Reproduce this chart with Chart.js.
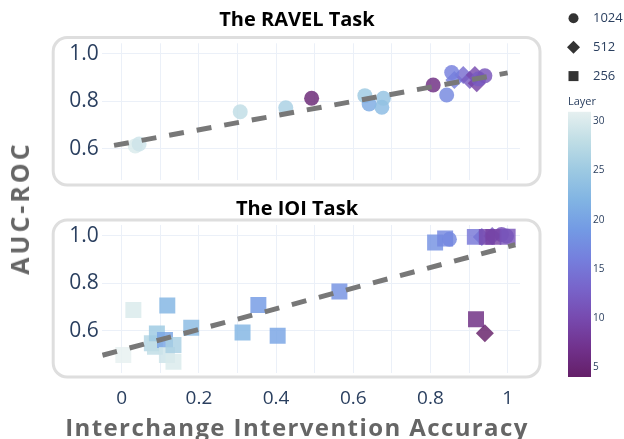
<!DOCTYPE html>
<html>
<head>
<meta charset="utf-8">
<script src="https://cdn.jsdelivr.net/npm/chart.js@4.4.1/dist/chart.umd.min.js"></script>
<style>
  html, body { margin:0; padding:0; background:#fff; }
  body { width:624px; height:439px; position:relative; overflow:hidden; font-family:"Open Sans", sans-serif; }
  canvas { position:absolute; }
  .ptitle { position:absolute; font-weight:700; font-size:20px; color:#000; white-space:nowrap; transform:translate(-50%,-50%); }
  #ylab { position:absolute; left:18.5px; top:208px; font-weight:700; font-size:25px; letter-spacing:3px; color:#666; white-space:nowrap; transform:translate(-50%,-50%) rotate(-90deg); }
  #xlab { position:absolute; left:297px; top:426px; font-weight:700; font-size:24px; letter-spacing:1.4px; color:#666; white-space:nowrap; transform:translate(-50%,-50%); }
</style>
</head>
<body>
<canvas id="c1" width="624" height="200" style="left:0;top:0;width:624px;height:200px"></canvas>
<canvas id="c2" width="624" height="239" style="left:0;top:200px;width:624px;height:239px"></canvas>
<canvas id="c3" width="64" height="290" style="left:560px;top:95px;width:64px;height:290px"></canvas>
<div class="ptitle" style="left:297px;top:18px">The RAVEL Task</div>
<div class="ptitle" style="left:297px;top:207px">The IOI Task</div>
<div id="ylab">AUC-ROC</div>
<div id="xlab">Interchange Intervention Accuracy</div>
<script>
// ---------------- DATA ----------------
// RAVEL task
const ravelCircleX = [0.035, 0.045, 0.307, 0.425, 0.492, 0.630, 0.641, 0.674, 0.678, 0.807, 0.842, 0.855, 0.925, 0.941];
const ravelCircleY = [0.612, 0.620, 0.756, 0.773, 0.813, 0.824, 0.789, 0.775, 0.813, 0.869, 0.827, 0.922, 0.895, 0.908];
const ravelCircleLayer = [30, 29, 28, 26, 5, 25, 21, 23, 24, 6, 17, 16, 12, 11];
const ravelDiamondX = [0.862, 0.885, 0.902, 0.915, 0.920];
const ravelDiamondY = [0.890, 0.911, 0.890, 0.911, 0.876];
const ravelDiamondLayer = [16, 14, 12, 10, 9];
const ravelTrendX = [-0.02, 1.0];
const ravelTrendY = [0.614, 0.920];
// IOI task
const ioiSquareX = [0.004, 0.030, 0.078, 0.086, 0.091, 0.112, 0.117, 0.118, 0.134, 0.134, 0.180, 0.313, 0.354, 0.404, 0.564, 0.812, 0.838, 0.915, 0.918, 0.946, 0.963, 1.000];
const ioiSquareY = [0.499, 0.688, 0.548, 0.534, 0.590, 0.562, 0.499, 0.707, 0.541, 0.471, 0.614, 0.594, 0.709, 0.580, 0.766, 0.972, 0.989, 0.996, 0.649, 0.996, 0.996, 0.997];
const ioiSquareLayer = [31, 30, 27, 28, 25, 20, 29, 22, 26, 30, 23, 22, 19, 20, 18, 18, 17, 15, 6, 10, 9, 11];
const ioiCircleX = [0.849, 0.984, 0.997];
const ioiCircleY = [0.986, 1.006, 1.000];
const ioiCircleLayer = [17, 11, 12];
const ioiDiamondX = [0.933, 0.960, 0.941];
const ioiDiamondY = [0.996, 1.000, 0.590];
const ioiDiamondLayer = [14, 12, 4];
const ioiTrendX = [-0.05, 1.02];
const ioiTrendY = [0.498, 0.963];
// ticks / legend
const xTickValues = [0, 0.1, 0.2, 0.3, 0.4, 0.5, 0.6, 0.7, 0.8, 0.9, 1.0];
const xTickLabels = ["0", "", "0.2", "", "0.4", "", "0.6", "", "0.8", "", "1"];
const yTickValues = [0.6, 0.8, 1.0];
const yTickLabels = ["0.6", "0.8", "1.0"];
const legendLabels = ["1024", "512", "256"];
const legendShapes = ["circle", "rectRot", "rect"];
const layerTicks = [5, 10, 15, 20, 25, 30];
const layerMin = 4, layerMax = 31;
const colorStops = [[100,31,104],[113,50,141],[119,74,175],[120,100,202],[117,127,221],[115,154,228],[129,180,227],[156,201,226],[191,221,229],[230,240,240]];

// ---------------- HELPERS ----------------
function layerColor(l, a) {
  const n = colorStops.length - 1;
  let t = (l - layerMin) / (layerMax - layerMin) * n;
  t = Math.max(0, Math.min(n, t));
  const i = Math.min(n - 1, Math.floor(t)), f = t - i;
  const c = colorStops[i].map((v, k) => Math.round(v + (colorStops[i + 1][k] - v) * f));
  return `rgba(${c[0]},${c[1]},${c[2]},${a})`;
}
const pts = (xs, ys) => xs.map((x, i) => ({ x, y: ys[i] }));
const ALPHA = 0.82;
const GRID = '#ebf0f8';
const TICKCOL = '#2a3f5f';
const FONT = '"Open Sans", sans-serif';

function scatterSet(xs, ys, layers, style, radius) {
  return {
    type: 'scatter', data: pts(xs, ys), pointStyle: style,
    pointRadius: radius, pointHoverRadius: radius, pointBorderWidth: 0,
    backgroundColor: layers.map(l => layerColor(l, ALPHA)),
    borderColor: 'rgba(0,0,0,0)', order: 2
  };
}
function trendSet(xs, ys) {
  return {
    type: 'line', data: pts(xs, ys), showLine: true, pointRadius: 0,
    borderColor: 'rgb(120,120,120)', borderWidth: 5, borderDash: [15, 13],
    fill: false, order: 0
  };
}

const panelPlugin = {
  id: 'panel',
  beforeDraw(chart, args, opts) {
    const { ctx, chartArea: a } = chart;
    ctx.save();
    ctx.beginPath();
    ctx.roundRect(a.left - 48.5, a.top + opts.top, (a.right + 20) - (a.left - 48.5), (a.bottom + opts.bottom) - (a.top + opts.top), 14);
    ctx.fillStyle = '#fff';
    ctx.fill();
    ctx.lineWidth = 3;
    ctx.strokeStyle = '#dedede';
    ctx.stroke();
    ctx.restore();
  }
};

const shapeLegend = {
  id: 'shapeLegend',
  afterDraw(chart, args, opts) {
    if (!opts.show) return;
    const ctx = chart.ctx;
    ctx.save();
    legendLabels.forEach((lab, i) => {
      const y = 18.3 + i * 28.9, x = 573.5;
      ctx.fillStyle = '#333';
      ctx.beginPath();
      const s = legendShapes[i];
      if (s === 'circle') ctx.arc(x, y, 5, 0, Math.PI * 2);
      else if (s === 'rectRot') { ctx.moveTo(x, y - 6.5); ctx.lineTo(x + 6.5, y); ctx.lineTo(x, y + 6.5); ctx.lineTo(x - 6.5, y); ctx.closePath(); }
      else ctx.rect(x - 5, y - 5, 10, 10);
      ctx.fill();
      ctx.fillStyle = TICKCOL;
      ctx.font = '13px ' + FONT;
      ctx.textBaseline = 'middle';
      ctx.textAlign = 'left';
      ctx.fillText(lab, 593, y);
    });
    ctx.restore();
  }
};

function makeOptions(yMin, yMax, showX, padTop, padBottom, xHeight, panelTop, panelBottom, legendShow) {
  return {
    responsive: false, animation: false, devicePixelRatio: 1,
    layout: { padding: { left: 54.7, right: 104, top: padTop, bottom: padBottom } },
    plugins: {
      legend: { display: false }, tooltip: { enabled: false }, title: { display: false },
      panel: { top: panelTop, bottom: panelBottom },
      shapeLegend: { show: legendShow }
    },
    scales: {
      x: {
        type: 'linear', min: -0.052, max: 1.032,
        grid: { color: GRID, lineWidth: 1, drawTicks: false },
        border: { display: false },
        afterBuildTicks: s => { s.ticks = xTickValues.map(v => ({ value: v })); },
        afterFit: s => { s.height = xHeight; },
        ticks: {
          display: showX, color: TICKCOL, font: { family: FONT, size: 19 }, padding: 14,
          maxRotation: 0, autoSkip: false,
          callback: (v, i) => xTickLabels[i]
        }
      },
      y: {
        type: 'linear', min: yMin, max: yMax,
        grid: { color: GRID, lineWidth: 1, drawTicks: false },
        border: { display: false },
        afterBuildTicks: s => { s.ticks = yTickValues.map(v => ({ value: v })); },
        afterFit: s => { s.width = 47; },
        ticks: {
          color: TICKCOL, font: { family: FONT, size: 21 }, padding: 3,
          callback: (v, i) => yTickLabels[i]
        }
      }
    }
  };
}

new Chart(document.getElementById('c1'), {
  type: 'scatter',
  data: {
    datasets: [
      scatterSet(ravelCircleX, ravelCircleY, ravelCircleLayer, 'circle', 7.5),
      scatterSet(ravelDiamondX, ravelDiamondY, ravelDiamondLayer, 'rectRot', 9),
      trendSet(ravelTrendX, ravelTrendY)
    ]
  },
  options: makeOptions(0.468, 1.045, false, 43.3, 20, 0, -5.8, 5, true),
  plugins: [panelPlugin, shapeLegend]
});

new Chart(document.getElementById('c2'), {
  type: 'scatter',
  data: {
    datasets: [
      scatterSet(ioiSquareX, ioiSquareY, ioiSquareLayer, 'rect', 11.3),
      scatterSet(ioiCircleX, ioiCircleY, ioiCircleLayer, 'circle', 7.5),
      scatterSet(ioiDiamondX, ioiDiamondY, ioiDiamondLayer, 'rectRot', 9),
      trendSet(ioiTrendX, ioiTrendY)
    ]
  },
  options: makeOptions(0.422, 1.046, true, 25, 0, 65.7, -5, 3.7, false),
  plugins: [panelPlugin, shapeLegend]
});

// Colorbar
new Chart(document.getElementById('c3'), {
  type: 'bar',
  data: {
    labels: ['Layer'],
    datasets: [{
      data: [[layerMin, layerMax]],
      barPercentage: 1, categoryPercentage: 1, borderWidth: 0,
      backgroundColor: (c) => {
        const ch = c.chart;
        if (!ch.chartArea) return '#888';
        const y = ch.scales.y;
        const g = ch.ctx.createLinearGradient(0, y.getPixelForValue(layerMin), 0, y.getPixelForValue(layerMax));
        colorStops.forEach((s, i) => g.addColorStop(i / (colorStops.length - 1), `rgb(${s[0]},${s[1]},${s[2]})`));
        return g;
      }
    }]
  },
  options: {
    responsive: false, animation: false, devicePixelRatio: 1,
    layout: { padding: { left: 8, right: 0, top: 0, bottom: 7 } },
    plugins: {
      legend: { display: false }, tooltip: { enabled: false },
      title: { display: true, text: 'Layer', align: 'start', color: TICKCOL, font: { family: FONT, size: 11, weight: 'normal' }, padding: { top: 0, bottom: 3.5 } }
    },
    scales: {
      x: { display: false },
      y: {
        position: 'right', min: layerMin, max: layerMax,
        grid: { display: false, drawTicks: false }, border: { display: false },
        afterBuildTicks: s => { s.ticks = layerTicks.map(v => ({ value: v })); },
        afterFit: s => { s.width = 33; },
        ticks: { color: TICKCOL, font: { family: FONT, size: 10 }, padding: 2 }
      }
    }
  }
});
</script>
</body>
</html>
